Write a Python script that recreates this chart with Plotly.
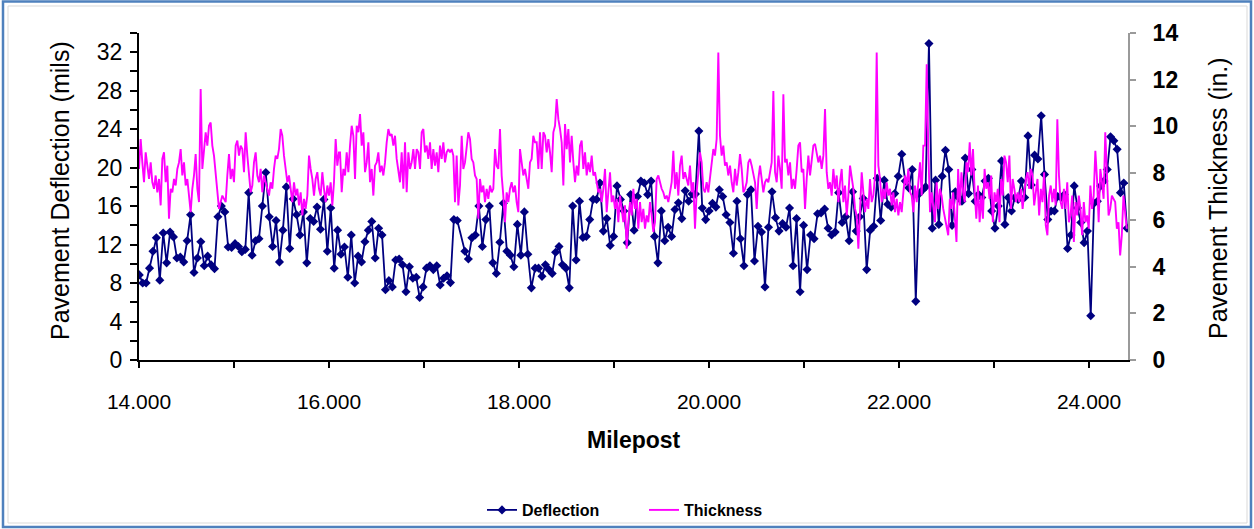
import numpy as np
import plotly.graph_objects as go

# ---------------- DATA ----------------
# Deflection (mils), read in five consecutive milepost segments
defl_seg_start = [14.003, 17.43, 18.17, 20.22, 22.28]
defl_seg_end = [17.35, 18.13, 20.18, 22.25, 24.40]
defl_a = [8.85, 8.0, 8.0, 9.55, 11.3, 12.7, 8.3, 13.2, 10.1, 13.3, 12.8, 10.6, 10.7, 10.2, 12.4, 15.1,
          9.1, 10.6, 12.3, 9.8, 10.8, 9.9, 9.5, 14.9, 16.0, 15.4, 11.75, 11.7, 12.1, 11.8, 11.25, 11.5,
          17.4, 10.9, 12.4, 12.6, 16.0, 19.5, 14.9, 11.8, 14.5, 10.2, 13.5, 18.0, 11.6, 16.75, 15.1,
          13.0, 15.4, 10.1, 14.7, 14.4, 15.9, 13.6, 16.7, 11.3, 15.8, 9.55, 13.5, 11.0, 11.75, 8.6,
          13.0, 8.0, 10.8, 10.2, 12.3, 13.5, 14.4, 10.6, 13.7, 13.0, 7.3, 8.25, 7.6, 10.4, 10.5, 9.9,
          7.1, 9.7, 8.5, 8.6, 6.5, 7.6, 9.55, 9.8, 9.4, 9.8, 7.8, 8.5, 8.75, 8.05, 14.6, 14.5]
defl_b = [11.3, 10.5, 12.7, 13.0, 16.0, 11.8, 14.6, 16.0, 10.1, 9.0, 12.25, 16.3, 11.3, 10.9, 9.7,
          14.1, 10.9, 15.4, 11.0, 7.5]
defl_c = [9.55, 9.55, 8.7, 9.9, 9.4, 9.0, 11.2, 11.8, 9.9, 9.55, 7.5, 16.0, 10.4, 16.5, 12.75, 12.85,
          14.6, 16.7, 16.7, 18.4, 13.4, 14.7, 11.9, 12.85, 18.1, 16.7, 15.5, 12.2, 17.2, 13.5, 17.0,
          18.6, 18.4, 17.2, 18.6, 12.85, 10.1, 15.5, 12.4, 13.8, 12.85, 15.65, 16.35, 14.7, 17.6, 16.5,
          17.25, 17.25, 23.8, 15.8, 14.6, 15.5, 16.3, 15.9, 17.7, 17.0, 15.1]
defl_d = [14.3, 11.1, 16.5, 12.6, 9.8, 17.2, 17.7, 10.3, 13.9, 13.3, 7.6, 13.8, 17.5, 14.8, 13.4, 14.2,
          13.8, 15.8, 9.8, 14.7, 7.1, 14.0, 9.4, 13.0, 12.6, 15.2, 15.3, 15.7, 13.7, 13.0, 13.3, 17.4,
          14.3, 14.9, 12.4, 17.5, 13.4, 14.9, 16.8, 9.4, 13.5, 13.9, 18.9, 14.5, 18.7, 16.2, 15.9, 17.3,
          19.1, 21.4, 18.6, 17.9, 19.8, 6.1, 17.3, 17.7]
defl_e = [18.0, 32.9, 13.7, 18.7, 14.1, 19.1, 21.8, 19.8, 14.0, 17.5, 16.9, 16.5, 21.0, 17.3, 19.8,
          16.5, 17.2, 16.9, 18.6, 18.9, 15.5, 13.7, 16.0, 20.7, 14.1, 16.9, 15.5, 16.9, 16.7, 18.6,
          16.9, 23.3, 18.2, 21.3, 20.9, 25.4, 19.3, 14.6, 15.5, 15.5, 17.0, 16.9, 17.2, 11.6, 13.0,
          18.1, 15.8, 14.3, 12.2, 13.4, 4.6, 16.3, 16.5, 18.1, 18.6, 19.8, 23.2, 22.8, 21.9, 17.4,
          18.4, 13.7]

# Thickness (in.), read in five consecutive milepost segments
thk_seg_start = [14.0, 16.116, 18.186, 20.221, 22.274]
thk_seg_end = [16.105, 18.168, 20.203, 22.256, 24.397]
thk_a = [8.18, 9.46, 8.46, 7.61, 8.89, 8.18, 7.75, 8.46, 7.61, 7.33, 7.9, 7.18, 7.75, 6.62, 8.61, 8.89,
         7.61, 8.32, 6.05, 7.33, 7.18, 7.75, 7.47, 8.18, 8.46, 9.03, 7.9, 8.46, 7.47, 7.75, 7.04, 6.33,
         7.33, 7.9, 8.82, 7.33, 6.76, 11.6, 8.18, 9.03, 9.75, 9.18, 10.03, 10.17, 9.18, 8.75, 7.9, 7.33,
         6.47, 6.76, 7.04, 6.9, 6.76, 7.9, 8.82, 7.75, 8.18, 7.61, 9.18, 9.39, 8.75, 9.18, 9.03, 8.04,
         9.75, 8.75, 7.9, 7.18, 7.47, 8.46, 8.89, 7.9, 7.61, 8.18, 7.18, 7.9, 7.61, 7.33, 7.04, 7.61,
         7.33, 8.18, 8.75, 8.61, 9.03, 9.89, 9.6, 8.75, 8.04, 7.61, 7.9, 7.33, 6.76, 7.61, 7.04, 7.33,
         6.62, 7.18, 6.19, 6.9, 6.47, 7.04, 8.75, 8.18, 7.75, 7.04, 7.75, 8.04, 7.33, 7.04, 8.04, 7.33,
         6.76, 7.47, 7.04, 7.61, 6.62, 7.61, 9.46, 8.32, 8.89]
thk_b = [8.89, 7.18, 8.18, 7.9, 8.89, 8.04, 9.18, 10.03, 9.6, 7.75, 10.03, 9.75, 10.53, 9.18, 9.75, 8.04,
         8.46, 9.32, 7.61, 8.18, 7.04, 8.32, 8.46, 8.89, 8.04, 8.32, 7.9, 8.46, 9.32, 9.89, 9.6, 9.67,
         9.18, 9.6, 8.61, 8.04, 7.61, 8.89, 7.33, 9.32, 7.18, 8.89, 8.18, 8.46, 9.03, 8.18, 9.03, 8.89,
         8.18, 9.75, 9.89, 8.89, 9.18, 8.61, 9.32, 8.18, 9.03, 8.32, 8.89, 8.04, 9.18, 8.61, 9.32, 8.46,
         8.89, 9.03, 8.89, 9.03, 8.75, 6.76, 8.75, 6.62, 7.47, 9.6, 8.18, 8.46, 9.03, 9.75, 9.46, 8.61,
         8.46, 7.9, 7.75, 6.05, 7.75, 7.18, 7.47, 6.76, 7.33, 6.9, 7.47, 7.18, 7.33, 9.03, 8.32, 8.18,
         9.89, 7.9, 7.04, 5.9, 7.18, 6.76, 7.33, 7.61, 7.18, 7.47, 6.76, 6.33, 9.03, 8.46, 7.9, 8.18,
         7.75, 7.33, 8.46, 8.61, 9.6, 9.32]
thk_c = [9.32, 8.18, 9.75, 8.18, 9.75, 9.6, 8.89, 9.46, 8.89, 8.04, 9.75, 10.03, 11.17, 10.31, 9.89,
         9.32, 7.47, 10.1, 9.03, 9.89, 8.46, 9.6, 8.46, 7.61, 8.32, 7.9, 9.18, 9.39, 8.18, 8.89, 7.9,
         8.46, 8.04, 8.75, 7.9, 8.04, 7.61, 7.18, 7.33, 6.76, 7.33, 8.18, 6.33, 7.04, 8.04, 6.76, 7.04,
         6.47, 6.9, 5.9, 7.04, 6.47, 5.9, 6.62, 4.77, 5.9, 6.76, 6.19, 7.33, 6.47, 6.9, 5.62, 6.76, 5.9,
         6.47, 5.62, 6.19, 5.9, 6.76, 6.19, 5.48, 5.9, 7.75, 7.9, 7.61, 7.33, 7.18, 6.9, 7.04, 6.76,
         7.18, 7.61, 8.96, 7.33, 8.04, 7.04, 8.32, 8.75, 7.75, 8.04, 7.75, 7.47, 8.32, 7.18, 7.61, 5.62,
         7.18, 8.18, 8.89, 8.46, 7.33, 7.18, 7.61, 7.18, 7.9, 8.46, 9.03, 8.75, 9.46, 13.16, 9.6, 8.75,
         9.18, 8.32, 8.46, 7.9]
thk_d = [8.32, 7.61, 7.18, 8.18, 7.47, 8.04, 8.82, 8.18, 7.18, 7.33, 7.61, 8.46, 8.61, 8.32, 7.9, 7.61,
         6.47, 7.75, 8.32, 7.61, 7.18, 7.61, 7.75, 7.61, 8.04, 8.46, 11.52, 8.04, 7.61, 8.75, 8.18, 7.33,
         11.38, 8.46, 8.61, 7.9, 8.46, 7.33, 7.75, 7.33, 8.18, 9.18, 9.32, 8.04, 8.18, 6.47, 7.75, 8.75,
         7.9, 8.61, 9.18, 9.25, 8.89, 8.46, 8.75, 8.18, 8.75, 10.74, 8.04, 7.33, 7.61, 7.04, 8.18, 7.33,
         7.9, 6.76, 7.61, 8.18, 6.76, 7.47, 6.19, 7.04, 8.32, 7.9, 7.33, 6.47, 6.19, 4.77, 6.62, 8.04,
         7.18, 6.33, 6.9, 6.47, 7.75, 6.76, 7.04, 7.9, 13.16, 8.32, 7.75, 6.76, 7.33, 6.9, 7.61, 7.04,
         7.33, 6.62, 7.18, 6.33, 6.9, 6.19, 6.76, 6.33, 7.18, 7.9, 7.47, 8.18, 7.18, 7.04, 6.33, 7.47,
         6.76, 7.75, 8.46, 7.04, 9.18]
thk_e = [9.18, 12.66, 8.89, 6.33, 7.18, 6.47, 5.9, 7.61, 6.47, 7.33, 7.04, 6.47, 6.05, 5.62, 5.34, 6.9,
         6.47, 7.18, 5.9, 5.05, 8.18, 6.62, 8.04, 7.18, 6.76, 8.46, 8.04, 9.32, 7.9, 9.03, 7.18, 6.05,
         7.47, 5.9, 7.04, 6.05, 8.18, 7.33, 7.61, 6.9, 7.9, 5.9, 7.18, 6.76, 7.33, 5.9, 7.75, 7.04, 8.75,
         8.46, 7.61, 8.75, 6.47, 7.75, 7.33, 6.76, 7.18, 6.76, 7.33, 6.47, 7.18, 7.75, 8.04, 7.33, 8.18,
         7.9, 6.62, 7.18, 7.75, 6.19, 7.33, 6.76, 8.04, 5.76, 5.34, 7.04, 7.47, 6.76, 7.33, 6.62, 10.31,
         7.9, 6.76, 6.47, 7.33, 6.47, 7.61, 5.9, 6.19, 7.04, 5.05, 6.76, 6.19, 7.04, 6.47, 5.34, 6.76,
         5.9, 6.19, 5.62, 7.47, 6.47, 7.04, 8.96, 7.75, 5.9, 8.18, 7.61, 6.9, 9.75, 7.61, 6.19, 6.47,
         7.04, 6.9, 6.76, 5.62, 5.9, 4.48, 5.34, 7.04, 6.19, 5.62]

x_ticks = [14, 16, 18, 20, 22, 24]

# ---------------- BUILD SERIES ----------------
def assemble(starts, ends, segs):
    xs, ys = [], []
    for s, e, v in zip(starts, ends, segs):
        xs.extend(np.linspace(s, e, len(v)).tolist())
        ys.extend(v)
    return xs, ys

defl_x, defl_y = assemble(defl_seg_start, defl_seg_end, [defl_a, defl_b, defl_c, defl_d, defl_e])
thk_x, thk_y = assemble(thk_seg_start, thk_seg_end, [thk_a, thk_b, thk_c, thk_d, thk_e])

W, H = 1254, 529
ML, MR, MT, MB = 139, 126, 33, 169
PW, PH = W - ML - MR, H - MT - MB

def px(x):
    return (x - ML) / PW

def py(y):
    return (H - MB - y) / PH

FONT = "Liberation Sans, Arial, sans-serif"

fig = go.Figure()
fig.add_trace(go.Scatter(
    x=defl_x, y=defl_y, name="Deflection", mode="lines+markers",
    line=dict(color="#000080", width=1.8),
    marker=dict(symbol="diamond", size=7, color="#000080"),
))
fig.add_trace(go.Scatter(
    x=thk_x, y=thk_y, name="Thickness", mode="lines", yaxis="y2",
    line=dict(color="#FF00FF", width=1.9),
))

fig.update_layout(
    width=W, height=H,
    margin=dict(l=ML, r=MR, t=MT, b=MB, autoexpand=False),
    paper_bgcolor="white", plot_bgcolor="white",
    font=dict(family=FONT, color="black"),
    showlegend=True,
    legend=dict(orientation="h", x=px(644), xanchor="center", y=py(510), yanchor="middle",
                font=dict(size=16, family=FONT, weight="bold"), bgcolor="rgba(0,0,0,0)",
                entrywidth=117, entrywidthmode="pixels", tracegroupgap=0),
    xaxis=dict(
        range=[14.0, 24.41], tickmode="array", tickvals=x_ticks,
        ticktext=[f"{v:.3f}" for v in x_ticks],
        ticks="outside", ticklen=6, tickwidth=2, tickcolor="#000000",
        minor=dict(dtick=1, tick0=14, ticks="outside", ticklen=6, tickwidth=2, tickcolor="#000000"),
        showline=True, linecolor="#000000", linewidth=2,
        showgrid=False, zeroline=False,
        tickfont=dict(size=21, family=FONT), ticklabelstandoff=16,
    ),
    yaxis=dict(
        range=[0, 34], tick0=0, dtick=4,
        ticks="outside", ticklen=7, tickwidth=2, tickcolor="#000000",
        minor=dict(dtick=2, ticks="outside", ticklen=7, tickwidth=2, tickcolor="#000000"),
        showline=True, linecolor="#000000", linewidth=2,
        showgrid=False, zeroline=False,
        tickfont=dict(size=23, family=FONT), ticklabelstandoff=3,
    ),
    yaxis2=dict(
        range=[0, 14], tick0=0, dtick=2, overlaying="y", side="right",
        ticks="outside", ticklen=6, tickwidth=2, tickcolor="#9A9A9A",
        showline=True, linecolor="#9A9A9A", linewidth=2,
        showgrid=False, zeroline=False,
        tickfont=dict(size=23, family=FONT, weight="bold"), ticklabelstandoff=12,
    ),
    annotations=[
        dict(text="Pavement Deflection (mils)", x=px(60), y=py(191), xref="paper", yref="paper",
             textangle=-90, showarrow=False, xanchor="center", yanchor="middle",
             font=dict(size=25, family=FONT)),
        dict(text="Pavement Thickness (in.)", x=px(1218), y=py(198), xref="paper", yref="paper",
             textangle=-90, showarrow=False, xanchor="center", yanchor="middle",
             font=dict(size=25, family=FONT)),
        dict(text="<b>Milepost</b>", x=px(634), y=py(440), xref="paper", yref="paper",
             showarrow=False, xanchor="center", yanchor="middle",
             font=dict(size=23, family=FONT)),
    ],
    shapes=[
        dict(type="rect", xref="paper", yref="paper", x0=px(8), x1=px(1247), y0=py(523), y1=py(6),
             line=dict(color="#D9D9D9", width=1), layer="below"),
        dict(type="rect", xref="paper", yref="paper", x0=px(3), x1=px(1251), y0=py(527), y1=py(1.5),
             line=dict(color="#4F81BD", width=2.5), layer="below"),
    ],
)

fig.write_html(
    "out.html",
    config={"displayModeBar": False},
    post_script="document.body.style.margin='0';document.body.style.overflow='hidden';",
)
